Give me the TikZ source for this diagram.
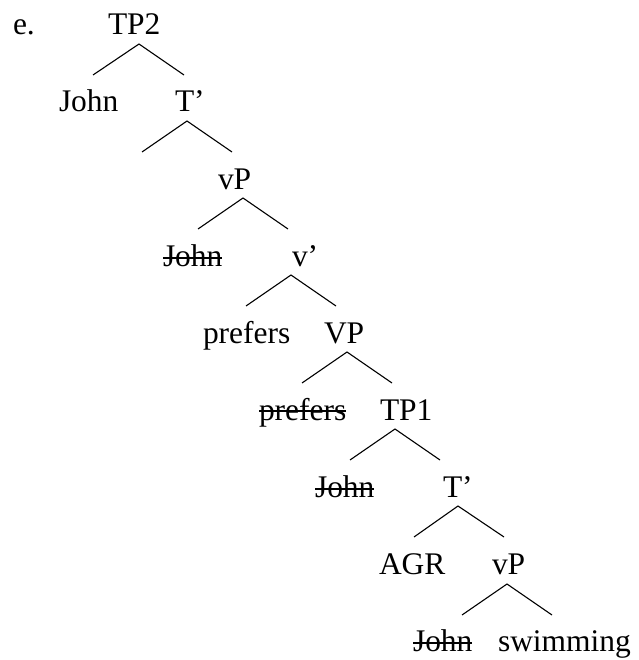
\documentclass[tikz,border=0pt]{standalone}
\usepackage{fontspec}
\setmainfont{Liberation Serif}
\begin{document}
\begin{tikzpicture}[x=1bp,y=-1bp,
  lbl/.style={anchor=base west,inner sep=0pt,outer sep=0pt,font=\fontsize{31.6}{38}\selectfont},
  branch/.style={line width=1.1bp,line cap=butt},
  strike/.style={line width=1.3bp}]
\useasboundingbox (0,0) rectangle (639,660);
% labels (baselines every 77px)
\node[lbl] (e) at (13,35) {e.};
\node[lbl] (tp2) at (108,35) {TP2};
\node[lbl] (john1) at (59,112) {John};
\node[lbl] (tbar1) at (175,112) {T’};
\node[lbl] (vp1) at (218,189) {vP};
\node[lbl] (john2) at (163,266) {John};
\node[lbl] (vbar) at (292,266) {v’};
\node[lbl] (prefers1) at (203,343) {prefers};
\node[lbl] (VP) at (324,343) {VP};
\node[lbl] (prefers2) at (259,420) {prefers};
\node[lbl] (tp1) at (380,420) {TP1};
\node[lbl] (john3) at (315,497) {John};
\node[lbl] (tbar2) at (443,497) {T’};
\node[lbl] (agr) at (379,574) {AGR};
\node[lbl] (vp2) at (492,574) {vP};
\node[lbl] (john4) at (413,651) {John};
\node[lbl] (swim) at (498,651) {swimming};
% strikeouts
\foreach \n in {john2,john3,john4}
  \draw[strike] ([yshift=8bp]\n.base west) -- ([yshift=8bp]\n.base east);
\draw[strike] ([yshift=9bp]prefers2.base west) -- ([yshift=9bp]prefers2.base east);
% branch coordinates
\coordinate (a0) at (139,44);  \coordinate (l0) at (93,75);   \coordinate (r0) at (184,75);
\coordinate (a1) at (187,121); \coordinate (l1) at (142,152); \coordinate (r1) at (232,152);
\coordinate (a2) at (243,198); \coordinate (l2) at (198,229); \coordinate (r2) at (288,229);
\coordinate (a3) at (291,275); \coordinate (l3) at (246,306); \coordinate (r3) at (336,306);
\coordinate (a4) at (347,352); \coordinate (l4) at (302,383); \coordinate (r4) at (392,383);
\coordinate (a5) at (395,429); \coordinate (l5) at (350,460); \coordinate (r5) at (440,460);
\coordinate (a6) at (458,506); \coordinate (l6) at (414,537); \coordinate (r6) at (504,537);
\coordinate (a7) at (507,584); \coordinate (l7) at (462,615); \coordinate (r7) at (552,615);
\foreach \i in {0,...,7}
  \draw[branch] (l\i) -- (a\i) -- (r\i);
\end{tikzpicture}
\end{document}
